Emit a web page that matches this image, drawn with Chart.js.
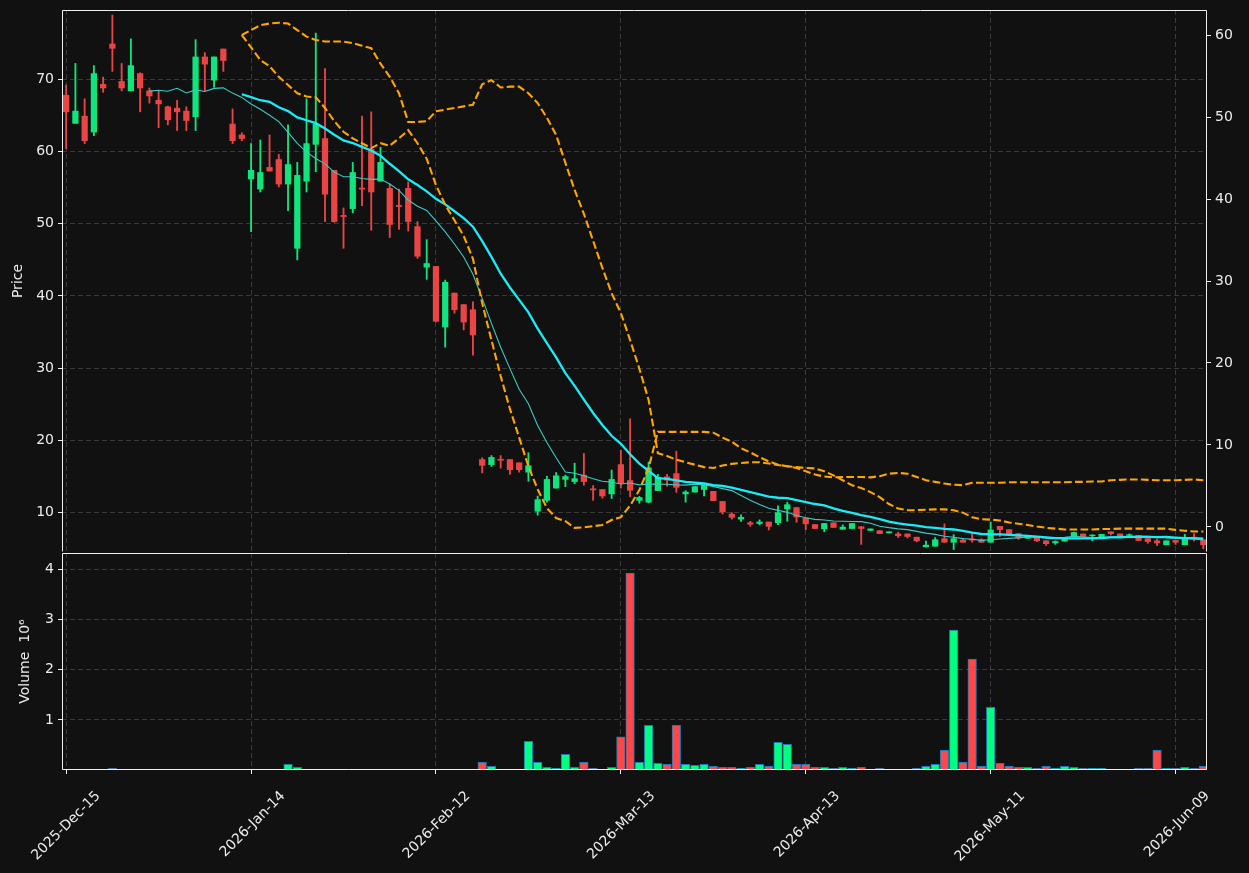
<!DOCTYPE html>
<html><head><meta charset="utf-8">
<script src="https://cdn.jsdelivr.net/npm/chart.js@4.4.1/dist/chart.umd.min.js"></script>
<style>
html,body{margin:0;padding:0;background:#111111;}
#wrap{position:relative;width:1249px;height:873px;background:#111111;overflow:hidden;}
#c1{position:absolute;left:0;top:0;}
#c2{position:absolute;left:0;top:553px;}
</style></head><body>
<div id="wrap">
<canvas id="c1" width="1249" height="553"></canvas>
<canvas id="c2" width="1249" height="320"></canvas>
</div>
<script>
// ---- data (trading-day index 0..123) ----
const tickIndex = [0, 20, 40, 60, 80, 100, 120];
const tickLabels = ['2025-Dec-15', '2026-Jan-14', '2026-Feb-12', '2026-Mar-13', '2026-Apr-13', '2026-May-11', '2026-Jun-09'];
const priceTicks = [10, 20, 30, 40, 50, 60, 70];
const bandTicks = [0, 10, 20, 30, 40, 50, 60];
const volTicks = [1, 2, 3, 4];

const opens = [67.8,63.9,64.9,62.7,69.3,74.9,69.7,68.4,70.8,68.4,67.1,66.2,66.0,65.6,64.8,73.1,69.9,74.2,63.8,62.3,
56.2,54.8,57.8,58.9,55.5,46.6,55.9,61.0,61.8,57.4,51.15,52.1,54.95,60.3,55.9,54.9,52.55,54.9,49.6,44.0,
44.1,35.7,40.4,38.8,38.1,17.35,16.65,17.4,17.35,16.9,15.6,10.2,11.7,13.4,14.6,14.3,15.2,13.3,13.2,12.6,
16.65,14.45,11.7,11.45,13.05,14.95,15.4,12.6,12.85,13.2,12.95,11.55,9.8,9.1,8.6,8.5,8.7,8.6,10.5,10.7,
9.25,8.35,7.75,8.6,7.7,7.8,8.05,7.55,7.5,7.2,7.05,7.05,6.6,5.25,5.35,6.4,5.9,6.2,6.35,6.25,
5.9,8.1,7.65,7.1,6.45,6.6,6.1,5.8,6.05,6.8,7.05,6.8,6.6,7.35,7.05,6.85,6.85,6.4,6.1,5.55,
6.15,5.55,6.6,6.25];
const highs = [69.2,72.2,67.3,71.9,70.3,78.9,72.2,75.6,70.9,68.8,68.4,66.3,67.1,66.2,75.5,73.7,73.1,74.2,65.9,62.6,
61.1,61.6,62.3,59.6,63.7,58.5,67.3,76.4,71.5,57.4,52.2,58.5,64.9,65.5,60.6,55.5,54.8,55.8,50.3,47.8,
44.1,42.2,40.4,38.8,39.2,17.6,17.9,17.9,17.35,16.9,18.3,12.3,15.05,15.55,15.2,16.85,18.2,13.75,13.2,15.9,
18.65,23.0,12.25,17.0,15.3,15.3,18.5,13.05,13.6,13.85,12.95,11.55,10.0,9.7,8.8,9.0,8.7,10.95,11.45,10.7,
9.25,8.35,8.5,8.6,8.3,8.5,8.05,7.75,7.5,7.35,7.3,7.05,6.6,6.05,6.55,8.45,6.95,6.4,7.2,6.4,
8.7,8.1,7.65,7.1,6.8,6.6,6.1,6.1,6.55,7.3,7.05,6.95,7.0,7.35,7.05,7.05,6.85,6.4,6.35,6.1,
6.15,7.0,7.1,6.25];
const lows = [60.4,63.9,61.1,62.2,68.2,71.1,68.4,68.4,65.5,66.7,63.3,63.7,62.9,62.9,62.9,68.4,68.9,71.1,61.1,61.5,
48.9,54.4,57.3,55.1,51.8,45.0,54.4,57.2,50.3,50.2,46.6,51.5,52.5,49.1,55.9,48.1,49.2,49.0,45.2,42.3,
36.4,32.9,37.6,35.3,31.8,15.5,16.4,16.15,15.3,15.6,14.35,9.65,11.45,13.4,13.6,14.0,13.8,11.7,12.0,11.95,
13.4,12.2,11.3,11.35,13.05,13.65,12.8,11.45,12.85,12.3,11.65,9.8,9.1,8.8,8.1,8.3,7.6,8.35,8.8,8.65,
7.65,7.8,7.35,7.95,7.7,7.8,5.6,7.5,7.1,7.2,6.55,6.5,5.95,5.25,5.35,5.9,4.9,5.9,5.9,5.9,
5.9,6.7,7.05,6.3,6.45,6.0,5.45,5.6,6.05,6.8,6.7,6.1,6.6,6.9,6.75,6.75,6.15,5.75,5.45,5.55,
5.6,5.55,6.1,5.0];
const closes = [65.5,65.6,61.5,70.8,68.8,74.3,68.8,71.9,68.8,67.7,66.6,64.4,65.5,64.3,73.1,72.1,73.1,72.6,61.5,61.8,
57.4,57.1,57.3,55.5,58.2,56.7,61.1,63.8,54.1,50.3,51.0,57.1,54.8,54.4,58.5,49.9,52.4,50.3,45.5,44.5,
36.5,41.9,38.1,36.4,34.6,16.55,17.65,17.25,15.95,15.95,16.5,11.8,14.6,15.1,15.0,14.7,14.3,13.15,12.3,14.6,
14.1,13.1,12.1,16.2,14.9,14.5,13.5,12.85,13.6,13.85,11.65,10.1,9.35,9.35,8.4,8.7,8.1,10.0,11.1,9.4,
8.45,7.8,8.5,7.95,8.0,8.5,7.8,7.75,7.1,7.35,6.8,6.7,6.1,5.5,6.25,5.9,6.4,5.9,6.2,5.9,
7.6,7.65,7.05,6.45,6.8,6.1,5.7,6.0,6.55,7.25,6.7,6.9,7.0,7.1,6.75,6.95,6.15,6.0,5.8,6.1,
5.9,6.4,6.45,5.55];
// volume in millions
const volumes = [0,0,0,0,0,0.033,0,0,0,0,0,0,0,0,0,0,0,0,0,0,
0.02,0,0,0,0.113,0.053,0.013,0.013,0.013,0,0,0.013,0.013,0.013,0.013,0.013,0.013,0,0.013,0,
0.013,0.013,0,0,0.013,0.153,0.073,0.013,0.013,0.013,0.573,0.153,0.053,0.033,0.313,0.053,0.153,0.033,0.013,0.053,
0.66,3.93,0.153,0.893,0.133,0.113,0.893,0.113,0.093,0.113,0.073,0.053,0.053,0.033,0.053,0.113,0.073,0.553,0.513,0.113,
0.113,0.053,0.053,0.033,0.053,0.033,0.053,0.013,0.033,0.013,0.013,0.013,0.033,0.073,0.113,0.393,2.793,0.153,2.213,0.073,
1.253,0.133,0.073,0.053,0.053,0.033,0.073,0.033,0.073,0.053,0.033,0.033,0.033,0.013,0.013,0.013,0.033,0.033,0.393,0.033,
0.033,0.053,0.033,0.073];
// dashed orange bands (right axis)
const bandA = [null,null,null,null,null,null,null,null,null,null,null,null,null,null,null,null,null,null,null,60.0,
60.6,61.2,61.4,61.5,61.4,60.6,59.8,59.4,59.2,59.2,59.2,59.0,58.7,58.4,56.5,54.9,52.9,49.4,49.4,49.5,
50.7,50.9,51.1,51.3,51.5,54.0,54.5,53.6,53.7,53.7,52.9,51.7,49.9,47.8,44.4,41.1,38.2,34.9,31.6,28.5,
26.1,22.8,19.3,15.5,9.0,8.65,8.2,7.9,7.6,7.3,7.2,7.5,7.7,7.8,7.9,7.9,7.75,7.55,7.4,7.3,
7.2,7.15,6.8,6.3,5.7,5.1,4.75,4.25,3.65,2.8,2.25,2.05,2.05,2.1,2.15,2.15,2.05,1.75,1.2,0.95,
0.9,0.8,0.55,0.4,0.25,0.05,-0.1,-0.2,-0.3,-0.3,-0.3,-0.3,-0.25,-0.25,-0.2,-0.2,-0.2,-0.2,-0.2,-0.2,
-0.35,-0.45,-0.55,-0.55];
const bandB = [null,null,null,null,null,null,null,null,null,null,null,null,null,null,null,null,null,null,null,60.0,
58.5,56.95,56.2,54.9,53.9,52.9,52.5,52.4,51.1,49.5,48.2,47.4,46.8,46.2,46.8,46.5,47.4,48.4,46.8,44.9,
41.7,39.3,37.4,35.5,32.7,27.3,22.8,18.4,14.4,10.9,7.4,4.6,2.3,1.1,0.7,-0.1,-0.05,0.1,0.25,0.85,
1.2,2.6,4.5,7.2,11.6,11.6,11.6,11.6,11.6,11.6,11.5,10.9,10.4,9.6,9.1,8.5,8.0,7.6,7.4,7.2,
6.8,6.4,6.15,6.05,6.1,6.1,6.1,6.05,6.2,6.5,6.6,6.5,6.1,5.7,5.5,5.3,5.15,5.1,5.4,5.4,
5.4,5.4,5.45,5.45,5.45,5.45,5.45,5.45,5.45,5.5,5.5,5.55,5.55,5.7,5.75,5.8,5.8,5.75,5.7,5.7,
5.7,5.75,5.8,5.7];

// ---- styling ----
const FONT = 'DejaVu Sans';
const TXT = '#ececec';
const GRID = 'rgba(255,255,255,0.17)';
const candleUp = '#10e47c', candleDn = '#e94545';
const volUp = '#00ff80', volDn = '#ff4747', volEdge = '#1f77b4';
const up = closes.map((c, i) => c >= opens[i]);

function sma(arr, n) {
  return arr.map((_, i) => i < n - 1 ? null : arr.slice(i - n + 1, i + 1).reduce((a, b) => a + b, 0) / n);
}
const ma10 = sma(closes, 10);
const ma20 = sma(closes, 20);
const pts = arr => arr.map((v, i) => ({x: i, y: v}));

const XMIN = -0.45, XMAX = 123.4;
const setTicks = list => scale => { scale.ticks = list.map(v => ({value: v})); };
function fitBox(w, h) {
  return s => {
    if (w !== null) s.width = w;
    if (h !== null) s.height = h;
    s.paddingTop = 0; s.paddingBottom = 0; s.paddingLeft = 0; s.paddingRight = 0;
  };
}

function framePlugin(skipBottom) {
  return {
    id: 'frame',
    afterDraw(chart) {
      const {ctx, chartArea: a} = chart;
      ctx.save();
      ctx.strokeStyle = '#f0f0f0';
      ctx.lineWidth = 1;
      ctx.beginPath();
      const l = Math.round(a.left) + 0.5, r = Math.round(a.right) - 0.5;
      const t = Math.round(a.top) + 0.5, b = Math.round(a.bottom) - 0.5;
      ctx.moveTo(l, b); ctx.lineTo(l, t); ctx.lineTo(r, t); ctx.lineTo(r, b);
      if (!skipBottom) ctx.lineTo(l, b);
      ctx.stroke();
      ctx.restore();
    }
  };
}

Chart.defaults.font.family = FONT;
Chart.defaults.font.size = 14;
Chart.defaults.color = TXT;

// ---- price panel ----
new Chart(document.getElementById('c1'), {
  type: 'bar',
  data: {
    datasets: [
      {type: 'line', data: pts(bandB), yAxisID: 'y2', borderColor: '#ffa500', borderWidth: 2.1, borderDash: [7.7, 3.3], pointRadius: 0, fill: false, tension: 0},
      {type: 'line', data: pts(bandA), yAxisID: 'y2', borderColor: '#ffa500', borderWidth: 2.1, borderDash: [7.7, 3.3], pointRadius: 0, fill: false, tension: 0},
      {type: 'line', data: pts(ma20), yAxisID: 'y', borderColor: '#19ecf7', borderWidth: 2.3, pointRadius: 0, fill: false, tension: 0},
      {type: 'line', data: pts(ma10), yAxisID: 'y', borderColor: '#3ccbc2', borderWidth: 1.1, pointRadius: 0, fill: false, tension: 0},
      {data: closes.map((c, i) => ({x: i, y: [opens[i], c]})), yAxisID: 'y', grouped: false, barThickness: 5.6,
       backgroundColor: up.map(u => u ? candleUp : candleDn), borderWidth: 0},
      {data: closes.map((c, i) => ({x: i, y: [lows[i], highs[i]]})), yAxisID: 'y', grouped: false, barThickness: 1.2,
       backgroundColor: up.map(u => u ? candleUp : candleDn), borderWidth: 0}
    ]
  },
  options: {
    responsive: false, animation: false, events: [],
    layout: {padding: {top: 10, bottom: 1, left: 0, right: 0}},
    plugins: {legend: {display: false}, tooltip: {enabled: false}},
    scales: {
      x: {type: 'linear', min: XMIN, max: XMAX, offset: false,
          afterBuildTicks: setTicks(tickIndex),
          ticks: {display: false},
          grid: {color: GRID, offset: false, drawTicks: false, lineWidth: 1},
          border: {display: false, dash: [5, 3]},
          afterFit: fitBox(null, 0)},
      y: {type: 'linear', position: 'left', min: 4.55, max: 79.6,
          afterBuildTicks: setTicks(priceTicks),
          ticks: {color: TXT, padding: 4, font: {size: 14}},
          grid: {color: GRID, tickColor: '#f0f0f0', tickLength: 4, lineWidth: 1},
          border: {display: false, dash: [5, 3]},
          title: {display: true, text: 'Price', color: TXT, font: {size: 14}, padding: {top: 10, bottom: 0}},
          afterFit: fitBox(62, null)},
      y2: {type: 'linear', position: 'right', min: -3.05, max: 63.05,
          afterBuildTicks: setTicks(bandTicks),
          ticks: {color: TXT, padding: 4, font: {size: 14}},
          grid: {drawOnChartArea: false, tickColor: '#f0f0f0', tickLength: 4},
          border: {display: false},
          afterFit: fitBox(42, null)}
    }
  },
  plugins: [framePlugin(true)]
});

// ---- volume panel ----
new Chart(document.getElementById('c2'), {
  type: 'bar',
  data: {
    datasets: [
      {data: volumes.map((v, i) => ({x: i, y: v})), grouped: false, barThickness: 8.6,
       backgroundColor: up.map(u => u ? volUp : volDn), borderColor: volEdge, borderWidth: 1}
    ]
  },
  options: {
    responsive: false, animation: false, events: [],
    layout: {padding: {top: 0, bottom: 0, left: 0, right: 42}},
    plugins: {legend: {display: false}, tooltip: {enabled: false}},
    scales: {
      x: {type: 'linear', min: XMIN, max: XMAX, offset: false,
          afterBuildTicks: setTicks(tickIndex),
          ticks: {color: TXT, autoSkip: false, minRotation: 45, maxRotation: 45, padding: 14, labelOffset: 32,
                  font: {size: 14},
                  callback: v => { const k = tickIndex.indexOf(v); return k >= 0 ? tickLabels[k] : ''; }},
          grid: {color: GRID, offset: false, tickColor: '#f0f0f0', tickLength: 4, lineWidth: 1},
          border: {display: false, dash: [5, 3]},
          afterFit: fitBox(null, 103)},
      y: {type: 'linear', position: 'left', min: 0, max: 4.33,
          afterBuildTicks: setTicks(volTicks),
          ticks: {color: TXT, padding: 4, font: {size: 14}},
          grid: {color: GRID, tickColor: '#f0f0f0', tickLength: 4, lineWidth: 1},
          border: {display: false, dash: [5, 3]},
          title: {display: true, text: 'Volume  10\u2076', color: TXT, font: {size: 14}, padding: {top: 16.5, bottom: 0}},
          afterFit: fitBox(62, null)}
    }
  },
  plugins: [framePlugin(false)]
});
</script>
</body></html>
